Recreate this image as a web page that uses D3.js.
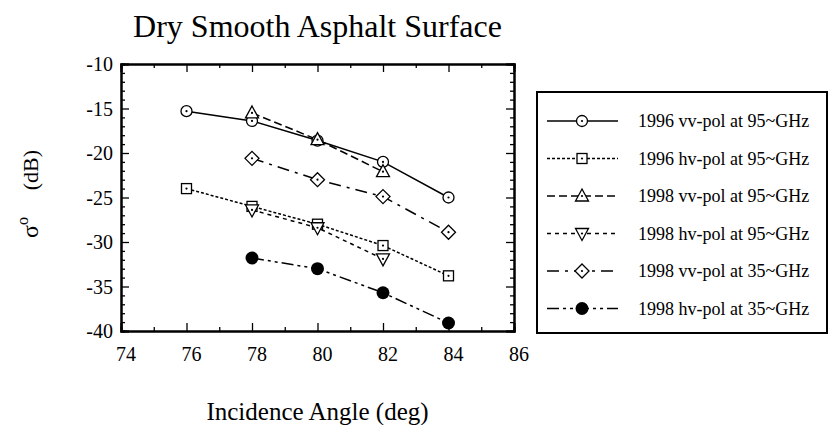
<!DOCTYPE html>
<html>
<head>
<meta charset="utf-8">
<script src="https://cdn.jsdelivr.net/npm/d3@7"></script>
<style>
  body { margin: 0; background: #fff; }
  text { font-family: "Liberation Serif", "Times New Roman", serif; fill: #000; }
</style>
</head>
<body>
<div id="chart"></div>
<script>
// data (sigma0 in dB vs incidence angle)
const angles96 = [76, 78, 80, 82, 84];
const vv96at95 = [-15.3, -16.4, -18.6, -21.0, -25.0];
const hv96at95 = [-24.0, -26.0, -28.0, -30.4, -33.8];
const angles98 = [78, 80, 82];
const vv98at95 = [-15.5, -18.5, -22.1];
const hv98at95 = [-26.4, -28.4, -31.9];
const angles98b = [78, 80, 82, 84];
const vv98at35 = [-20.6, -23.0, -24.9, -28.9];
const hv98at35 = [-31.8, -33.0, -35.7, -39.1];

const seriesNames = [
    '1996 vv-pol at 95~GHz',
    '1996 hv-pol at 95~GHz',
    '1998 vv-pol at 95~GHz',
    '1998 hv-pol at 95~GHz',
    '1998 vv-pol at 35~GHz',
    '1998 hv-pol at 35~GHz',
];
const xTicks = [74, 76, 78, 80, 82, 84, 86];
const yTicks = [-40, -35, -30, -25, -20, -15, -10];

const series = [
    { name: seriesNames[0], x: angles96, y: vv96at95, marker: 'circle', dash: null },
    { name: seriesNames[1], x: angles96, y: hv96at95, marker: 'square', dash: '3,2' },
    { name: seriesNames[2], x: angles98, y: vv98at95, marker: 'triUp', dash: '8,4' },
    { name: seriesNames[3], x: angles98, y: hv98at95, marker: 'triDown', dash: '4,4' },
    { name: seriesNames[4], x: angles98b, y: vv98at35, marker: 'diamond', dash: '12,6,3,6' },
    { name: seriesNames[5], x: angles98b, y: hv98at35, marker: 'dot', dash: '12,4,3,4,3,4' },
];

const margin = { top: 64, left: 121 };
const width = 393;
const height = 267;

const svg = d3
    .select('#chart')
    .append('svg')
    .attr('width', 836)
    .attr('height', 425);

const g = svg.append('g')
    .attr('transform', 'translate(' + margin.left + ',' + margin.top + ')');

const x = d3.scaleLinear().domain([74, 86]).range([0, width]);
const y = d3.scaleLinear().domain([-40, -10]).range([height, 0]);

// title
svg.append('text')
    .attr('x', margin.left + width / 2)
    .attr('y', 37)
    .attr('text-anchor', 'middle')
    .style('font-size', '32px')
    .text('Dry Smooth Asphalt Surface');

// ticks pointing inward on all four sides
const minorX = d3.range(75, 86, 2);
const minorY = d3.range(-39, -10, 1).filter(v => v % 5 !== 0);

function inwardAxis(axisFn, scale, values, size) {
    return axisFn(scale).tickValues(values).tickSize(size).tickFormat('');
}

const axisB = g.append('g').attr('transform', 'translate(0,' + height + ')');
axisB.call(inwardAxis(d3.axisBottom, x, xTicks, -8));
axisB.append('g').call(inwardAxis(d3.axisBottom, x, minorX, -4));
const axisT = g.append('g');
axisT.call(inwardAxis(d3.axisTop, x, xTicks, -8));
axisT.append('g').call(inwardAxis(d3.axisTop, x, minorX, -4));
const axisL = g.append('g');
axisL.call(inwardAxis(d3.axisLeft, y, yTicks, -8));
axisL.append('g').call(inwardAxis(d3.axisLeft, y, minorY, -4));
const axisR = g.append('g').attr('transform', 'translate(' + width + ',0)');
axisR.call(inwardAxis(d3.axisRight, y, yTicks, -8));
axisR.append('g').call(inwardAxis(d3.axisRight, y, minorY, -4));

g.selectAll('.domain').attr('stroke', '#000').attr('stroke-width', 2);
g.selectAll('.tick line').attr('stroke', '#000').attr('stroke-width', 1.3);

// tick labels
g.append('g')
    .selectAll('text')
    .data(xTicks)
    .enter()
    .append('text')
    .attr('x', d => x(d) + 5)
    .attr('y', height + 30)
    .attr('text-anchor', 'middle')
    .style('font-size', '20px')
    .text(d => d);

g.append('g')
    .selectAll('text')
    .data(yTicks)
    .enter()
    .append('text')
    .attr('x', -8)
    .attr('y', d => y(d) + 7)
    .attr('text-anchor', 'end')
    .style('font-size', '20px')
    .text(d => d);

// axis titles
svg.append('text')
    .attr('x', margin.left + width / 2)
    .attr('y', 420)
    .attr('text-anchor', 'middle')
    .style('font-size', '25px')
    .text('Incidence Angle (deg)');

const sigma = svg.append('text')
    .attr('transform', 'translate(38,238) rotate(-90)')
    .attr('text-anchor', 'start')
    .style('font-size', '24px');
sigma.append('tspan').text('σ');
sigma.append('tspan').attr('dy', -10).style('font-size', '16px').text('o');

svg.append('text')
    .attr('transform', 'translate(38,150) rotate(-90)')
    .attr('text-anchor', 'end')
    .style('font-size', '22px')
    .text('(dB)');

// markers
function drawMarker(sel, type) {
    sel.each(function () {
        const m = d3.select(this);
        if (type === 'circle') {
            m.append('circle').attr('r', 5.5).attr('fill', '#fff').attr('stroke', '#000').attr('stroke-width', 1.3);
        } else if (type === 'square') {
            m.append('rect').attr('x', -5).attr('y', -5).attr('width', 10).attr('height', 10)
                .attr('fill', '#fff').attr('stroke', '#000').attr('stroke-width', 1.3);
        } else if (type === 'triUp') {
            m.append('path').attr('d', 'M0,-7L6.5,5L-6.5,5Z').attr('fill', '#fff').attr('stroke', '#000').attr('stroke-width', 1.3);
        } else if (type === 'triDown') {
            m.append('path').attr('d', 'M0,7L6.5,-5L-6.5,-5Z').attr('fill', '#fff').attr('stroke', '#000').attr('stroke-width', 1.3);
        } else if (type === 'diamond') {
            m.append('path').attr('d', 'M0,-7L7,0L0,7L-7,0Z').attr('fill', '#fff').attr('stroke', '#000').attr('stroke-width', 1.3);
        } else {
            m.append('circle').attr('r', 6.5).attr('fill', '#000');
        }
        if (type !== 'dot') {
            m.append('circle').attr('r', 1.1).attr('fill', '#000');
        }
    });
}

const line = d3.line().x(d => x(d[0])).y(d => y(d[1]));

series.forEach(s => {
    const pts = s.x.map((v, i) => [v, s.y[i]]);
    g.append('path')
        .datum(pts)
        .attr('fill', 'none')
        .attr('stroke', '#000')
        .attr('stroke-width', 1.5)
        .attr('stroke-dasharray', s.dash)
        .attr('d', line);
});

series.forEach(s => {
    const pts = s.x.map((v, i) => [v, s.y[i]]);
    g.append('g')
        .selectAll('g')
        .data(pts)
        .enter()
        .append('g')
        .attr('transform', d => 'translate(' + x(d[0]) + ',' + y(d[1]) + ')')
        .call(sel => drawMarker(sel, s.marker));
});

// legend
const legend = svg.append('g');
legend.append('rect')
    .attr('x', 537)
    .attr('y', 92)
    .attr('width', 290)
    .attr('height', 241)
    .attr('fill', '#fff')
    .attr('stroke', '#000')
    .attr('stroke-width', 2);

const rows = legend.selectAll('g.row')
    .data(series)
    .enter()
    .append('g')
    .attr('class', 'row')
    .attr('transform', (d, i) => 'translate(0,' + (121 + i * 37.5) + ')');

rows.append('line')
    .attr('x1', 547)
    .attr('x2', 618)
    .attr('stroke', '#000')
    .attr('stroke-width', 1.5)
    .attr('stroke-dasharray', d => d.dash);

rows.each(function (d) {
    d3.select(this).append('g')
        .attr('transform', 'translate(582,0)')
        .call(sel => drawMarker(sel, d.marker));
});

rows.append('text')
    .attr('x', 638)
    .attr('y', 6)
    .style('font-size', '18px')
    .text(d => d.name);
</script>
</body>
</html>
